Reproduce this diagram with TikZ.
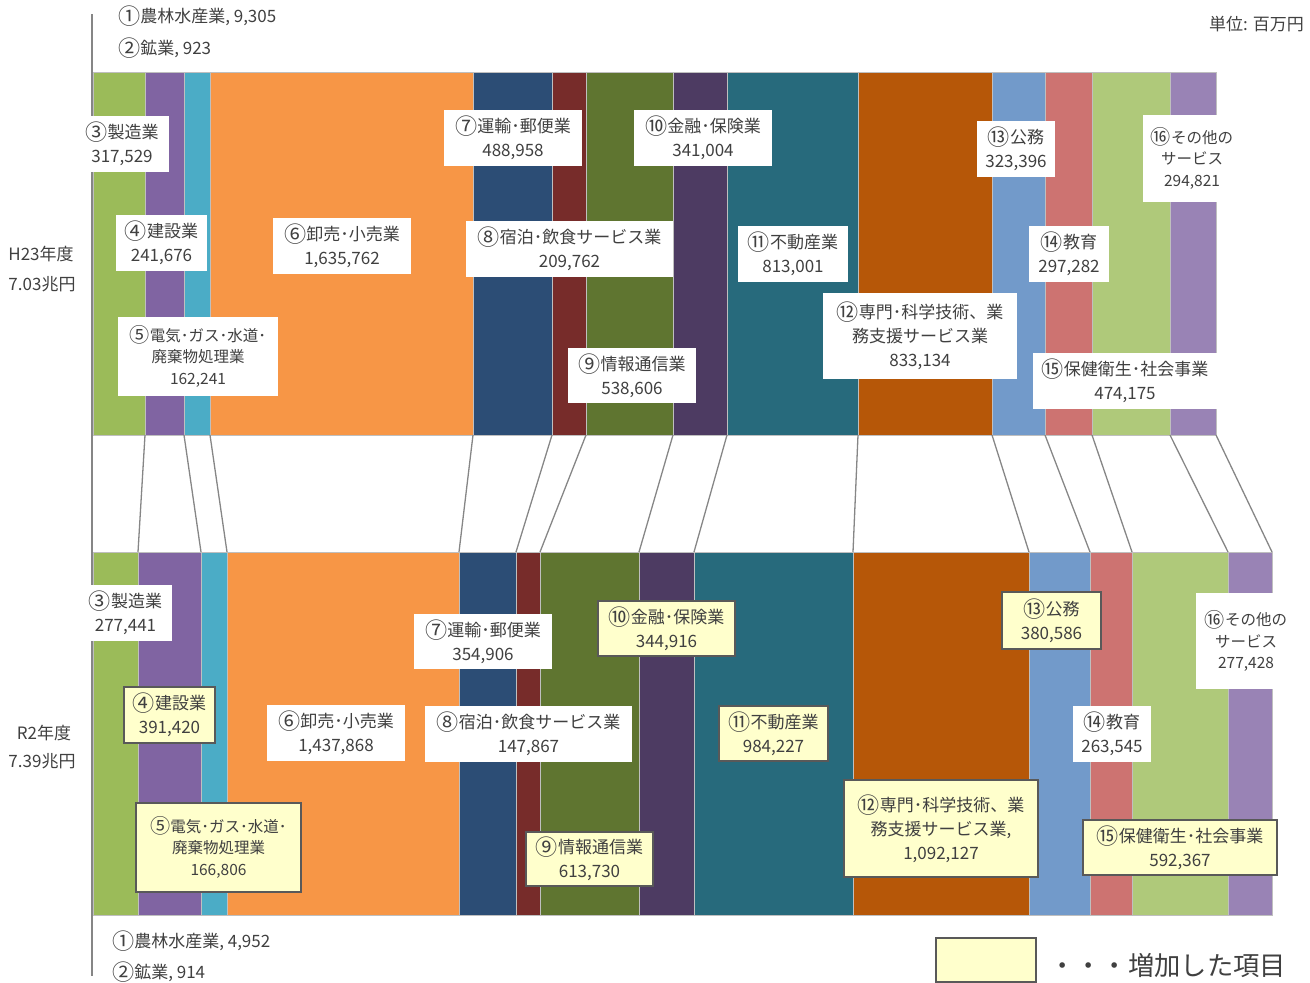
\documentclass[tikz,border=0pt]{standalone}
\usepackage{fontspec}
\setmainfont{Noto Sans CJK JP}
\newcommand\mk[1]{\raisebox{-0.11em}{\scalebox{1.3}{#1}}}
\definecolor{sgA}{HTML}{9BBB59}
\definecolor{sgB}{HTML}{8064A2}
\definecolor{sgC}{HTML}{4BACC6}
\definecolor{sgD}{HTML}{F79646}
\definecolor{sgE}{HTML}{2C4D75}
\definecolor{sgF}{HTML}{772C2A}
\definecolor{sgG}{HTML}{5F7530}
\definecolor{sgH}{HTML}{4D3B62}
\definecolor{sgI}{HTML}{276A7C}
\definecolor{sgJ}{HTML}{B65708}
\definecolor{sgK}{HTML}{729ACA}
\definecolor{sgL}{HTML}{CD7371}
\definecolor{sgM}{HTML}{AFC97A}
\definecolor{sgN}{HTML}{9983B5}
\definecolor{upyellow}{HTML}{FFFFCC}
\definecolor{boxgray}{HTML}{595959}
\definecolor{txtgray}{HTML}{404040}
\definecolor{linegray}{HTML}{868686}

\begin{document}
\begin{tikzpicture}[x=1pt,y=-1pt,
  txt/.style={text=txtgray,font=\fontsize{17}{24}\selectfont,align=center,inner sep=0pt},
  wbox/.style={txt,fill=white},
  ybox/.style={txt,fill=upyellow,draw=boxgray,line width=1.5pt},
  small/.style={font=\fontsize{15.5}{21.5}\selectfont},
  link/.style={draw=linegray,line width=1.3pt},
  seg/.style={draw=black!25,line width=0.6pt}]
\useasboundingbox (0,0) rectangle (1310,983);
\foreach \a/\b/\c in {93/145/sgA,145/184/sgB,184/210/sgC,210/473/sgD,473/552/sgE,552/586/sgF,586/673/sgG,673/727/sgH,727/858/sgI,858/992/sgJ,992/1045/sgK,1045/1092/sgL,1092/1170/sgM,1170/1216/sgN}
  \filldraw[seg,fill=\c] (\a,72) rectangle (\b,435);
\foreach \a/\b/\c in {93/138/sgA,138/201/sgB,201/227/sgC,227/459/sgD,459/516/sgE,516/540/sgF,540/639/sgG,639/694/sgH,694/853/sgI,853/1029/sgJ,1029/1090/sgK,1090/1132/sgL,1132/1228/sgM,1228/1272/sgN}
  \filldraw[seg,fill=\c] (\a,552) rectangle (\b,915);
\foreach \u/\d in {145/138,184/201,210/227,473/459,552/516,586/540,673/639,727/694,858/853,992/1029,1045/1090,1092/1132,1170/1228,1216/1272}
  \draw[link] (\u,435) -- (\d,552);
\draw[link] (92,14) -- (92,976);

\node[txt,anchor=west] (n1) at (118,16) {\mk{①}農林水産業, 9,305};
\node[txt,anchor=west] (n2) at (118,48) {\mk{②}鉱業, 923};
\node[txt,anchor=east] (unit) at (1304,24) {単位: 百万円};
\node[txt] (y1) at (41,254) {H23年度};
\node[txt] (y1v) at (42,284) {7.03兆円};
\node[txt] (y2) at (44,733) {R2年度};
\node[txt] (y2v) at (42,761) {7.39兆円};

\node[wbox,minimum width=93,minimum height=56] (u3) at (122,144) {\mk{③}製造業\\317,529};
\node[wbox,minimum width=91,minimum height=56] (u4) at (161.5,243) {\mk{④}建設業\\241,676};
\node[wbox,small,minimum width=160,minimum height=79] (u5) at (198,356.5) {\mk{⑤}電気･ガス･水道･\\廃棄物処理業\\162,241};
\node[wbox,minimum width=138,minimum height=56] (u6) at (342,246) {\mk{⑥}卸売･小売業\\1,635,762};
\node[wbox,minimum width=138,minimum height=56] (u7) at (513,138) {\mk{⑦}運輸･郵便業\\488,958};
\node[wbox,minimum width=207,minimum height=56] (u8) at (569.5,249) {\mk{⑧}宿泊･飲食サービス業\\209,762};
\node[wbox,minimum width=128,minimum height=55] (u9) at (632,375.5) {\mk{⑨}情報通信業\\538,606};
\node[wbox,minimum width=138,minimum height=56] (u10) at (703,138) {\mk{⑩}金融･保険業\\341,004};
\node[wbox,minimum width=110,minimum height=56] (u11) at (793,254) {\mk{⑪}不動産業\\813,001};
\node[wbox,minimum width=194,minimum height=86] (u12) at (920,336) {\mk{⑫}専門･科学技術、業\\務支援サービス業\\833,134};
\node[wbox,minimum width=78,minimum height=56] (u13) at (1016,149) {\mk{⑬}公務\\323,396};
\node[wbox,minimum width=80,minimum height=56] (u14) at (1069,254) {\mk{⑭}教育\\297,282};
\node[wbox,minimum width=184,minimum height=56] (u15) at (1125,381) {\mk{⑮}保健衛生･社会事業\\474,175};
\node[wbox,small,minimum width=98,minimum height=87] (u16) at (1192,158.5) {\mk{⑯}その他の\\サービス\\294,821};

\node[wbox,minimum width=93,minimum height=56] (d3) at (125.5,612.5) {\mk{③}製造業\\277,441};
\node[ybox,minimum width=91,minimum height=56] (d4) at (169.5,715) {\mk{④}建設業\\391,420};
\node[ybox,small,minimum width=165,minimum height=89] (d5) at (218.5,847.5) {\mk{⑤}電気･ガス･水道･\\廃棄物処理業\\166,806};
\node[wbox,minimum width=138,minimum height=56] (d6) at (336,732.5) {\mk{⑥}卸売･小売業\\1,437,868};
\node[wbox,minimum width=138,minimum height=55] (d7) at (483,641.5) {\mk{⑦}運輸･郵便業\\354,906};
\node[wbox,minimum width=207,minimum height=56] (d8) at (528.5,734) {\mk{⑧}宿泊･飲食サービス業\\147,867};
\node[ybox,minimum width=127,minimum height=54] (d9) at (589.5,859) {\mk{⑨}情報通信業\\613,730};
\node[ybox,minimum width=137,minimum height=55] (d10) at (666.5,628.5) {\mk{⑩}金融･保険業\\344,916};
\node[ybox,minimum width=109,minimum height=55] (d11) at (773.5,733.5) {\mk{⑪}不動産業\\984,227};
\node[ybox,minimum width=194,minimum height=97] (d12) at (941,828.5) {\mk{⑫}専門･科学技術、業\\務支援サービス業,\\1,092,127};
\node[ybox,minimum width=99,minimum height=57] (d13) at (1051.5,620.5) {\mk{⑬}公務\\380,586};
\node[wbox,minimum width=78,minimum height=56] (d14) at (1112,734) {\mk{⑭}教育\\263,545};
\node[ybox,minimum width=194,minimum height=55] (d15) at (1180,847.5) {\mk{⑮}保健衛生･社会事業\\592,367};
\node[wbox,small,minimum width=100,minimum height=96] (d16) at (1246,641) {\mk{⑯}その他の\\サービス\\277,428};

\node[txt,anchor=west] (m1) at (112,941) {\mk{①}農林水産業, 4,952};
\node[txt,anchor=west] (m2) at (112,972) {\mk{②}鉱業, 914};
\node[ybox,minimum width=100,minimum height=44] (key) at (986,960) {};
\node[txt,font=\fontsize{26.3}{30}\selectfont,anchor=west] (keytxt) at (1049,965) {・・・増加した項目};
\end{tikzpicture}
\end{document}
